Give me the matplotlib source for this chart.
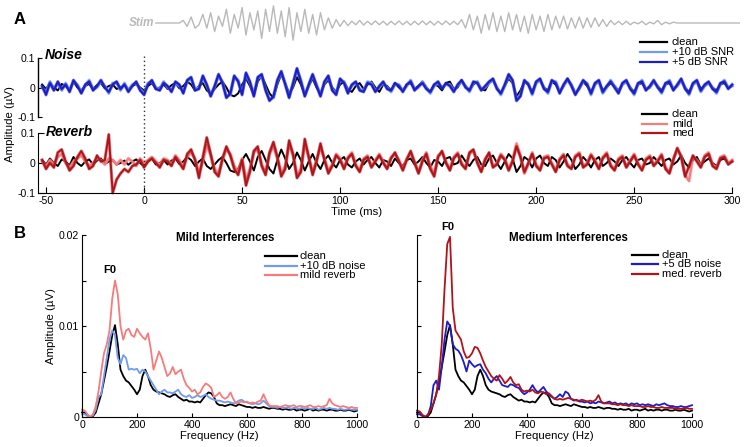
import numpy as np
import matplotlib
matplotlib.use("Agg")
import matplotlib.pyplot as plt
from matplotlib.lines import Line2D
from matplotlib.transforms import blended_transform_factory

plt.rcParams['font.family'] = ['Liberation Sans', 'DejaVu Sans']
plt.rcParams['axes.unicode_minus'] = False

# ---------------- DATA ----------------
# time axis of panel A traces (ms), step 2 ms
t_start, t_stop, t_step = -52, 300, 2
# all panel-A trace values in nV (1000 nV = 1 uV)
clean_nV = [
    10, -5, 15, 0, -10, 12, 5, -8, 20, 0,
    -10, 5, 12, -5, 8, 15, -3, 5, 10, -5,
    0, 8, -6, 5, 12, 0, -10, 5, 15, -5,
    0, 10, -5, 8, 15, -3, 5, 20, 10, -10,
    5, 15, -10, -20, -5, 10, 20, 0, -25, -30,
    -20, 10, 30, 5, -25, 20, 40, 10, -20, -35,
    10, 45, 15, -20, 0, 35, 10, -25, 5, 30,
    0, -20, 10, 25, 0, -15, 10, 20, -5, -15,
    5, 15, -5, 10, 20, 0, -15, 10, 5, -10,
    15, 0, -10, 10, 15, -5, 5, 20, 0, -15,
    10, 5, -10, 15, 20, -5, 0, 25, 5, -10,
    10, 20, -5, -10, 15, 25, 0, -20, 5, 30,
    15, -30, -10, 20, 10, -15, 15, 25, 0, -10,
    20, 10, -15, 5, 30, 10, -20, -5, 20, 5,
    -15, 10, 20, -10, 0, 15, 5, -10, 10, 20,
    0, -15, 10, 15, -5, 0, 20, 5, -10, 10,
    15, -5, 5, 25, 0, -15, 10, 20, -5, 5,
    15, 0, -10, 10, 15, 0, 5]
snr10_nV = [
    0, -15, 20, -5, 15, -10, 15, -10, 20, 10,
    -15, 5, 25, -5, 0, 20, 5, -20, 15, 15,
    -10, 15, -10, 10, 15, -5, -20, 15, 20, 0,
    -5, 20, 0, -10, 15, 5, -15, 20, 30, -5,
    0, 35, 5, -25, 0, 40, 20, -30, -25, 35,
    25, -20, 45, 15, -25, 30, 40, -5, -40, -35,
    20, 50, 15, -30, 10, 60, 25, -25, 5, 40,
    10, -25, 15, 35, -5, -20, 25, 20, -15, 5,
    15, -5, -10, 20, 15, -10, 0, 15, 0, -15,
    10, 10, -10, 5, 25, -5, 0, 20, 0, -20,
    5, 15, 0, 10, 10, -10, 5, 20, 5, -15,
    15, 20, -5, 0, 15, 25, 0, -25, 5, 40,
    20, -40, -25, 20, 15, -25, 15, 25, 0, -20,
    20, 20, -15, 5, 25, 10, -20, -5, 20, 15,
    -25, 10, 20, -20, 0, 25, 5, -15, 10, 20,
    0, -25, 10, 25, -5, 0, 20, 5, -20, 10,
    25, -5, 5, 25, 0, -25, 10, 20, -15, 5,
    15, 0, -20, 10, 25, 0, 5]
snr5_nV = [
    5, -25, 15, -10, 20, -5, 10, -15, 25, 5,
    -20, 10, 20, -10, 5, 25, 0, -15, 10, 20,
    -5, 10, -15, 5, 20, -10, -25, 10, 25, -5,
    -10, 15, 5, -15, 20, 10, -20, 25, 35, -10,
    -5, 40, 10, -30, 5, 45, 15, -35, -20, 40,
    20, -25, 50, 20, -30, 35, 45, -10, -45, -30,
    25, 55, 10, -35, 15, 65, 20, -30, 10, 45,
    5, -30, 20, 40, -10, -25, 30, 15, -20, 10,
    20, -10, -15, 15, 10, -15, 5, 20, -5, -10,
    15, 5, -15, 10, 20, -10, 5, 15, -5, -15,
    10, 20, -5, 15, 5, -15, 10, 25, 0, -10,
    20, 15, -10, 5, 20, 30, -5, -20, 10, 45,
    25, -45, -30, 25, 10, -20, 20, 30, -5, -15,
    25, 15, -20, 10, 30, 5, -25, 0, 25, 10,
    -20, 15, 25, -15, 5, 20, 0, -20, 15, 25,
    -5, -20, 15, 20, -10, 5, 25, 0, -15, 15,
    20, -10, 10, 30, -5, -20, 15, 25, -10, 10,
    20, -5, -15, 15, 20, -5, 10]
mild_nV = [
    5, -10, 10, -5, 20, 30, 0, -15, 5, 15,
    25, 5, -10, 0, 15, 10, -5, 15, 10, -5,
    10, -5, 15, 5, -10, 15, 0, 10, 20, 5,
    -5, 15, 10, -5, 25, 10, -15, 20, 35, 15,
    -35, 5, 60, 25, -20, -35, 10, 45, 30, -10,
    -30, 15, -55, -20, 35, 45, -5, -30, 30, 55,
    15, -35, -10, 60, 25, -40, -20, 65, 20, -30,
    10, 50, 15, -25, -5, 30, 15, -15, 20, 35,
    -5, -25, 15, 25, -10, 10, 30, 5, -15, 20,
    30, 10, -20, 15, 35, 5, -30, 10, 35, -10,
    -35, 25, 35, 5, -20, 20, 35, 0, -15, 30,
    40, 5, -25, 15, 30, -10, 0, 30, 15, -20,
    10, 65, 25, -35, -5, 35, -5, -20, 20, 25,
    0, -25, 15, 30, -5, -15, 25, 35, -10, 0,
    30, 10, -15, 20, 35, -5, -20, 15, 25, -10,
    10, 30, 0, -20, 15, 25, -5, 10, 30, -15,
    -30, 15, 45, 25, -40, -60, 20, 10, -10, 25,
    35, -5, -15, 20, 25, 0, 10]
med_nV = [
    10, -20, 0, -15, 35, 45, 5, -25, -10, 20,
    40, 15, -20, -10, 25, 5, 10, 95, -100, -55,
    -35, -20, -30, -10, -5, 10, -15, 5, 15, 0,
    -15, 10, 5, -10, 20, 0, -20, 30, 45, 10,
    -50, 20, 85, 30, -30, -45, 15, 55, 25, -20,
    -40, 10, -75, -30, 40, 55, -10, -40, 35, 70,
    20, -45, -20, 75, 30, -50, -30, 80, 20, -40,
    5, 65, 10, -35, -10, 25, 10, -20, 15, 30,
    -10, -30, 10, 20, -15, 5, 25, 0, -20, 15,
    35, 5, -25, 10, 40, 0, -35, 5, 30, -20,
    -45, 20, 40, 0, -25, 15, 30, -5, -20, 35,
    45, 0, -30, 10, 35, -15, -5, 25, 10, -25,
    5, 55, 20, -30, 0, 30, -10, -25, 15, 20,
    -5, -30, 10, 25, -10, -20, 20, 30, -15, -5,
    25, 5, -20, 15, 30, -10, -25, 10, 20, -15,
    5, 25, -5, -25, 10, 20, -10, 5, 25, -20,
    -35, 10, 50, 20, -45, -10, 25, 5, -15, 20,
    30, -10, -20, 15, 20, -5, 5]

# stimulus waveform (arbitrary units), t = 6..306 ms step 2
stim_t0, stim_step = 6, 2
stim = [
    0, 0, 0, 0, 0, 0, 0, 0.15, -0.2, 0.35,
    -0.3, -0.1, 0.5, -0.3, 0.6, -0.5, 0.4, -0.2, 0.8, -0.6,
    0.5, -0.3, 0.9, -0.7, 0.6, -0.4, 0.7, -0.9, 0.8, -0.5,
    1.0, -0.6, 0.7, -0.8, 0.9, -1.0, 0.6, -0.5, 0.8, -0.6,
    0.5, -0.7, 0.6, -0.4, 0.3, -0.3, 0.2, -0.2, 0.15, -0.15,
    0.1, -0.1, 0.15, -0.12, 0.1, -0.1, 0.12, -0.1, 0.1, -0.12,
    0.1, -0.1, 0.12, -0.1, 0.1, -0.12, 0.1, -0.1, 0.12, -0.1,
    0.1, -0.12, 0.1, -0.1, 0.12, -0.1, 0.1, -0.1, 0.2, -0.3,
    0.5, -0.4, 0.4, -0.6, 0.5, -0.4, 0.6, -0.5, 0.4, -0.5,
    0.6, -0.4, 0.5, -0.5, 0.4, -0.6, 0.5, -0.4, 0.4, -0.5,
    0.5, -0.4, 0.4, -0.3, 0.4, -0.35, 0.3, -0.3, 0.35, -0.3,
    0.3, -0.25, 0.3, -0.2, 0.2, -0.2, 0.15, -0.1, 0.1, -0.1,
    0.1, -0.1, 0.05, -0.05, 0.1, -0.1, 0.05, -0.05, 0.15, -0.1,
    0.05, -0.05, 0.05, 0, 0, 0, 0, 0, 0, 0,
    0, 0, 0, 0, 0, 0, 0, 0, 0, 0, 0]

# spectra, frequency 0..1000 Hz step 10, values in 1e-4 uV
f_step = 10
spec_clean = [
    5, 5, 2, 0, 1, 5, 15, 25, 40, 55,
    72, 90, 101, 80, 52, 45, 40, 38, 34, 30,
    25, 30, 45, 52, 45, 35, 30, 28, 27, 26,
    25, 23, 22, 24, 25, 22, 20, 18, 19, 17,
    17, 16, 17, 16, 20, 24, 27, 26, 22, 15,
    13, 13, 12, 13, 14, 13, 12, 14, 13, 12,
    11, 11, 10, 11, 10, 10, 11, 10, 9, 10,
    10, 9, 9, 8, 9, 8, 8, 9, 7, 8,
    8, 7, 8, 9, 7, 8, 7, 8, 8, 7,
    8, 8, 7, 7, 8, 7, 7, 8, 7, 6,
    7]
spec_noise10 = [
    3, 3, 1, 0, 2, 8, 22, 25, 45, 65,
    85, 95, 90, 65, 58, 68, 65, 52, 53, 52,
    53, 48, 52, 50, 45, 40, 35, 30, 25, 28,
    30, 27, 27, 26, 28, 30, 25, 23, 22, 24,
    21, 22, 24, 22, 23, 25, 22, 20, 19, 18,
    18, 17, 16, 17, 16, 15, 16, 18, 19, 17,
    16, 15, 14, 15, 14, 15, 18, 15, 12, 11,
    11, 10, 11, 10, 10, 11, 9, 10, 10, 9,
    10, 9, 10, 9, 9, 10, 8, 9, 10, 9,
    10, 9, 9, 8, 9, 8, 8, 9, 8, 8,
    8]
spec_mild = [
    8, 7, 3, 0, 3, 12, 28, 50, 70, 80,
    95, 130, 150, 135, 100, 85, 95, 97, 90, 88,
    97, 92, 88, 85, 92, 75, 52, 62, 72, 65,
    55, 45, 48, 55, 47, 50, 52, 42, 35, 32,
    28, 30, 25, 27, 33, 37, 35, 32, 22, 24,
    27, 22, 20, 22, 27, 20, 15, 16, 17, 16,
    17, 15, 16, 15, 17, 18, 25, 18, 13, 12,
    12, 12, 11, 12, 13, 12, 12, 13, 11, 12,
    12, 11, 12, 13, 11, 11, 12, 11, 12, 13,
    20, 15, 13, 12, 11, 12, 11, 10, 11, 10,
    10]
spec_noise5 = [
    3, 3, 1, 0, 2, 12, 35, 40, 30, 55,
    85, 105, 100, 80, 75, 73, 68, 60, 50, 62,
    58, 55, 57, 58, 52, 48, 42, 38, 42, 45,
    40, 35, 34, 33, 36, 35, 33, 32, 28, 25,
    27, 30, 35, 30, 27, 30, 33, 28, 25, 22,
    20, 22, 25, 22, 28, 26, 20, 18, 19, 17,
    17, 16, 17, 15, 16, 15, 17, 16, 15, 16,
    17, 15, 16, 14, 15, 14, 15, 13, 15, 14,
    15, 13, 14, 13, 14, 13, 12, 14, 13, 14,
    15, 13, 12, 12, 11, 11, 12, 11, 11, 12,
    13]
spec_med = [
    7, 6, 2, 0, 3, 8, 15, 25, 45, 80,
    140, 190, 198, 120, 95, 90, 85, 72, 65, 66,
    70, 77, 76, 70, 62, 55, 50, 45, 42, 40,
    46, 42, 37, 40, 44, 38, 35, 36, 30, 28,
    29, 28, 30, 27, 26, 28, 27, 25, 26, 23,
    20, 19, 20, 19, 20, 21, 20, 19, 18, 18,
    19, 18, 17, 18, 17, 19, 24, 17, 15, 15,
    15, 14, 14, 13, 14, 13, 13, 12, 13, 12,
    12, 12, 11, 11, 12, 11, 11, 10, 10, 11,
    10, 10, 10, 10, 9, 9, 9, 9, 10, 9,
    9]

t_ticks = [-50, 0, 50, 100, 150, 200, 250, 300]
f_ticks = [0, 200, 400, 600, 800, 1000]

# ---------------- COLOURS ----------------
C_CLEAN = '#000000'
C_SNR10 = '#6f9cf0'
C_SNR5 = '#1c1cc8'
C_MILD = '#f47c7c'
C_MED = '#b0141a'
C_STIM = '#b9b9b9'

W, H = 749, 447
fig = plt.figure(figsize=(W / 100, H / 100), dpi=100)


def ax_px(x0, y0, x1, y1):
    return fig.add_axes([x0 / W, 1 - y1 / H, (x1 - x0) / W, (y1 - y0) / H])


t = np.arange(len(clean_nV)) * t_step + t_start
to_uV = lambda v: np.asarray(v, float) / 1000.0

XL = (-54.1, 304)
FS = 7.6


def trace(ax, y, color, lw=1.5, halo=True):
    if halo:
        ax.plot(t, y, color=color, lw=lw + 1.0, alpha=0.45, clip_on=False)
    ax.plot(t, y, color=color, lw=lw, clip_on=False)


# ---- Noise panel ----
axn = ax_px(38, 58, 740, 117)
trace(axn, to_uV(clean_nV), C_CLEAN, 1.4, halo=False)
trace(axn, to_uV(snr10_nV), C_SNR10, 1.5)
trace(axn, to_uV(snr5_nV), C_SNR5, 1.4)
axn.set_xlim(*XL)
axn.set_ylim(-0.1, 0.1)
for s in ['top', 'right', 'bottom']:
    axn.spines[s].set_visible(False)
axn.spines['left'].set_linewidth(1.0)
axn.set_xticks([])
axn.set_yticks([-0.1, 0, 0.1])
axn.set_yticklabels(['-0.1', '0', '0.1'])
axn.tick_params(axis='y', direction='in', length=3, labelsize=FS, pad=2)
axn.patch.set_visible(False)

# ---- Reverb panel ----
axr = ax_px(38, 133, 740, 193)
trace(axr, to_uV(clean_nV), C_CLEAN, 1.4, halo=False)
trace(axr, to_uV(mild_nV), C_MILD, 1.5)
trace(axr, to_uV(med_nV), C_MED, 1.4)
axr.set_xlim(*XL)
axr.set_ylim(-0.1, 0.1)
for s in ['top', 'right']:
    axr.spines[s].set_visible(False)
axr.spines['bottom'].set_bounds(XL[0], 300)
axr.set_xticks(t_ticks)
axr.set_xticklabels([str(v) for v in t_ticks])
axr.set_yticks([-0.1, 0, 0.1])
axr.set_yticklabels(['-0.1', '0', '0.1'])
axr.tick_params(axis='both', direction='in', length=4, labelsize=FS, pad=2)
axr.patch.set_visible(False)

# dotted line at t=0
tr = blended_transform_factory(axr.transData, fig.transFigure)
fig.add_artist(Line2D([0, 0], [1 - 56 / H, 1 - 193 / H], transform=tr,
                      color='#333333', lw=1.0, ls=(0, (1, 2))))

# ---- Stim ----
axs = ax_px(38, 5, 740, 41)
ts = np.arange(len(stim)) * stim_step + stim_t0
axs.plot(ts, stim, color=C_STIM, lw=1.0)
axs.set_xlim(*XL)
axs.set_ylim(-1.05, 1.05)
axs.axis('off')
fig.text(154 / W, 1 - 23 / H, 'Stim', color=C_STIM, fontsize=8.5,
         fontweight='bold', fontstyle='italic', ha='right', va='center')

# panel texts
fig.text(20 / W, 1 - 20 / H, 'A', fontsize=12, fontweight='bold', ha='center', va='center')
fig.text(20 / W, 1 - 233 / H, 'B', fontsize=12, fontweight='bold', ha='center', va='center')
fig.text(45 / W, 1 - 55 / H, 'Noise', fontsize=10, fontweight='bold',
         fontstyle='italic', ha='left', va='center')
fig.text(46 / W, 1 - 132 / H, 'Reverb', fontsize=10, fontweight='bold',
         fontstyle='italic', ha='left', va='center')
fig.text(10 / W, 1 - 124 / H, 'Amplitude (µV)', fontsize=FS + 0.6, rotation=90,
         ha='center', va='center')
fig.text(357 / W, 1 - 212 / H, 'Time (ms)', fontsize=FS + 0.6, ha='center', va='center')


def fig_legend(x_line0, x_line1, x_text, ys, labels, colors):
    for y, lab, c in zip(ys, labels, colors):
        fig.add_artist(Line2D([x_line0 / W, x_line1 / W], [1 - y / H, 1 - y / H],
                              color=c, lw=1.6))
        fig.text(x_text / W, 1 - y / H, lab, fontsize=FS + 0.4, ha='left', va='center')


fig_legend(640, 667, 672, [42, 52, 62], ['clean', '+10 dB SNR', '+5 dB SNR'],
           [C_CLEAN, C_SNR10, C_SNR5])
fig_legend(642, 667, 672, [114, 124, 133], ['clean', 'mild', 'med'],
           [C_CLEAN, C_MILD, C_MED])

# ---- Panel B ----
f = np.arange(len(spec_clean)) * f_step
to_spec = lambda v: np.asarray(v, float) * 1e-4


def style_spec(ax, labels):
    ax.set_xlim(0, 1000)
    ax.set_ylim(0, 0.02)
    for s in ['top', 'right']:
        ax.spines[s].set_visible(False)
    ax.set_xticks(f_ticks)
    ax.set_xticklabels([str(v) for v in f_ticks])
    ax.set_yticks([0, 0.005, 0.01, 0.015, 0.02])
    if labels:
        ax.set_yticklabels(['0', '', '0.01', '', '0.02'])
    else:
        ax.set_yticklabels([])
    ax.tick_params(axis='both', direction='in', length=3, labelsize=FS, pad=2)
    ax.set_xlabel('Frequency (Hz)', fontsize=FS + 0.6, labelpad=1)
    ax.patch.set_visible(False)


axb1 = ax_px(82, 235, 357, 417)
axb1.plot(f, to_spec(spec_clean), color=C_CLEAN, lw=1.3, clip_on=False)
axb1.plot(f, to_spec(spec_noise10), color=C_SNR10, lw=1.3, clip_on=False)
axb1.plot(f, to_spec(spec_mild), color=C_MILD, lw=1.3, clip_on=False)
style_spec(axb1, True)
axb1.set_ylabel('Amplitude (µV)', fontsize=FS + 0.6, labelpad=2)
fig.text(225 / W, 1 - 238 / H, 'Mild Interferences', fontsize=8.3, fontweight='bold',
         ha='center', va='center')
fig.text(110 / W, 1 - 270 / H, 'F0', fontsize=8, fontweight='bold', ha='center', va='center')
fig_legend(265, 297, 300, [256, 266, 275], ['clean', '+10 dB noise', 'mild reverb'],
           [C_CLEAN, C_SNR10, C_MILD])

axb2 = ax_px(417, 235, 692, 417)
axb2.plot(f, to_spec(spec_clean), color=C_CLEAN, lw=1.3, clip_on=False)
axb2.plot(f, to_spec(spec_noise5), color=C_SNR5, lw=1.3, clip_on=False)
axb2.plot(f, to_spec(spec_med), color=C_MED, lw=1.3, clip_on=False)
style_spec(axb2, False)
fig.text(568 / W, 1 - 238 / H, 'Medium Interferences', fontsize=8.3, fontweight='bold',
         ha='center', va='center')
fig.text(448 / W, 1 - 227 / H, 'F0', fontsize=8, fontweight='bold', ha='center', va='center')
fig_legend(632, 658, 662, [255, 264, 274], ['clean', '+5 dB noise', 'med. reverb'],
           [C_CLEAN, C_SNR5, C_MED])

fig.savefig('out.png', dpi=100)
